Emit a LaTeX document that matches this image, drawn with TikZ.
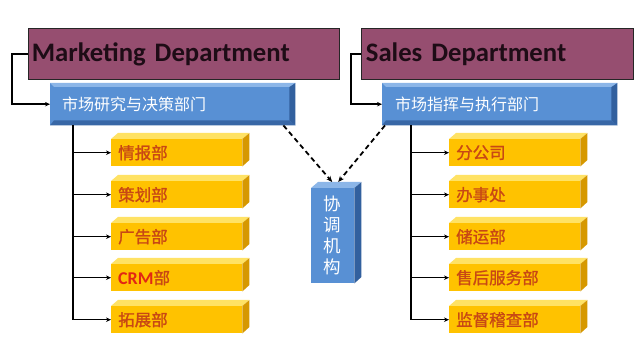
\documentclass[tikz,border=0pt]{standalone}
\usepackage{fontspec}
\newfontfamily\cjk{Noto Sans CJK SC}
\newfontfamily\cjkb{Noto Sans CJK SC}[FakeBold=1.2]
\newfontfamily\calfont{Carlito}
\usetikzlibrary{arrows.meta,calc}
\definecolor{mauve}{RGB}{150,78,112}
\definecolor{deptext}{RGB}{30,12,22}
\definecolor{bluefront}{RGB}{88,144,212}
\definecolor{blueside}{RGB}{50,96,158}
\definecolor{bluetop}{RGB}{140,182,232}
\definecolor{yfront}{RGB}{255,194,0}
\definecolor{ytopc}{RGB}{255,226,100}
\definecolor{yside}{RGB}{214,152,0}
\definecolor{ytext}{RGB}{200,72,20}
\definecolor{crmred}{RGB}{226,38,20}
\tikzset{
  dept/.style={draw=black!85, line width=0.8pt, fill=mauve, anchor=north west,
    minimum height=51pt, inner sep=0pt, align=left, text=deptext,
    font=\calfont\bfseries\fontsize{26.7}{26.7}\selectfont},
  bluebox/.style={fill=bluefront, anchor=north west, minimum height=42pt,
    inner sep=0pt, align=left, text=white, font=\cjk\fontsize{16}{16}\selectfont},
  ybox/.style={fill=yfront, anchor=north west, minimum width=131pt, minimum height=27pt,
    inner sep=0pt, text width=117pt, align=left, text=ytext,
    font=\cjkb\fontsize{16.5}{16.5}\selectfont},
  conn/.style={line width=1.5pt, -{Stealth[length=5pt,width=4.5pt]}},
  dasharrow/.style={line width=1.8pt, dash pattern=on 5pt off 3.5pt, -{Stealth[length=6pt,width=5pt]}}
}
\newcommand{\yboxdraw}[4]{%
  \node[ybox] (#1) at (#2,#3+6) {#4};
  \fill[ytopc] (#1.north west) -- ++(7,-6) -- ++(131,0) -- (#1.north east) -- cycle;
  \fill[yside] (#1.north east) -- ++(7,-6) -- ++(0,27) -- (#1.south east) -- cycle;
}
\newcommand{\bevel}[1]{%
  \fill[bluetop] (#1.north west) -- (#1.north east) -- ($(#1.north east)+(-5,4)$) -- ($(#1.north west)+(4,4)$) -- cycle;
  \fill[blueside] (#1.north east) -- (#1.south east) -- ($(#1.south east)+(-6,-5)$) -- ($(#1.north east)+(-6,4)$) -- cycle;
  \fill[blueside!85!bluefront] (#1.south west) -- (#1.south east) -- ($(#1.south east)+(-6,-5)$) -- ($(#1.south west)+(4,-5)$) -- cycle;
}
\begin{document}
\begin{tikzpicture}[x=1pt,y=-1pt]
\useasboundingbox (0,0) rectangle (640,344);
\fill[white] (0,0) rectangle (640,344);

% department headers
\node[dept, minimum width=311pt, text width=304pt] (mk) at (28,28) {Marketing Department};
\node[dept, minimum width=272pt, text width=263pt] (sd) at (361,28) {Sales Department};

% blue boxes
\node[bluebox, minimum width=245pt, text width=221pt] (lb) at (50,83) {市场研究与决策部门};
\bevel{lb}
\node[bluebox, minimum width=235pt, text width=209pt] (rb) at (382,83) {市场指挥与执行部门};
\bevel{rb}

% middle box
\node[fill=bluefront, anchor=north west, minimum width=43pt, minimum height=95pt, inner sep=0pt,
  align=center, text=white, font=\cjk\fontsize{17.5}{21}\selectfont] (mid) at (311,188) {协\\调\\机\\构};
\fill[bluetop] (mid.north west) -- ++(7,-6) -- ++(43,0) -- (mid.north east) -- cycle;
\fill[blueside] (mid.north east) -- ++(7,-6) -- ++(0,95) -- (mid.south east) -- cycle;

% yellow boxes left
\yboxdraw{L1}{111}{133}{情报部}
\yboxdraw{L2}{111}{175}{策划部}
\yboxdraw{L3}{111}{217}{广告部}
\yboxdraw{L4}{111}{258}{{\calfont\bfseries\fontsize{18}{18}\selectfont\color{crmred}CRM}部}
\yboxdraw{L5}{111}{300}{拓展部}
% yellow boxes right
\yboxdraw{R1}{449}{133}{分公司}
\yboxdraw{R2}{449}{175}{办事处}
\yboxdraw{R3}{449}{217}{储运部}
\yboxdraw{R4}{449}{258}{售后服务部}
\yboxdraw{R5}{449}{300}{监督稽查部}

% connectors header -> blue
\draw[conn] (mk.west) -- ++(-16,0) |- (lb.west);
\draw[conn] (sd.west) -- ++(-10,0) |- (rb.west);

% tree lines
\foreach \n in {L1,L2,L3,L4,L5} {
  \draw[conn] ([xshift=23pt]lb.south west) |- (\n.west);
}
\foreach \n in {R1,R2,R3,R4,R5} {
  \draw[conn] ([xshift=29pt]rb.south west) |- (\n.west);
}

% dashed arrows
\draw[dasharrow] ([xshift=-12pt]lb.south east) -- ($(mid.north)+(-0.5,-6)$);
\draw[dasharrow] ([xshift=3pt]rb.south west) -- ($(mid.north)+(5.5,-6)$);
\end{tikzpicture}
\end{document}
